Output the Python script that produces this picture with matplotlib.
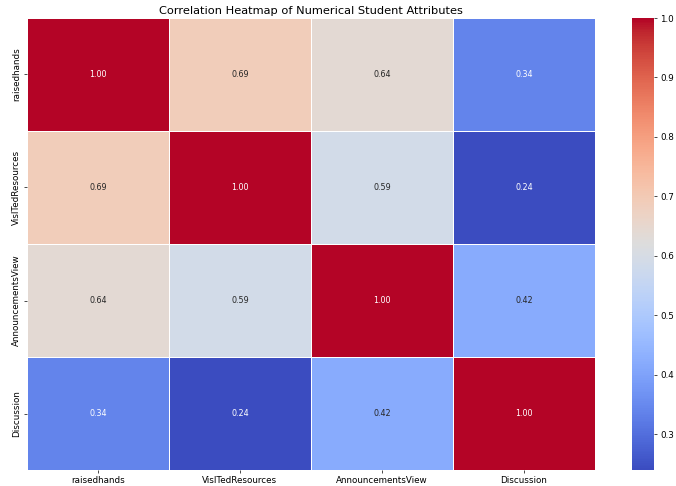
import numpy as np
import pandas as pd
import matplotlib
matplotlib.use("Agg")
import matplotlib.pyplot as plt
import seaborn as sns

labels = ["raisedhands", "VisITedResources", "AnnouncementsView", "Discussion"]
row_raised = [1.00, 0.69, 0.64, 0.34]
row_visited = [0.69, 1.00, 0.59, 0.24]
row_announce = [0.64, 0.59, 1.00, 0.42]
row_discuss = [0.34, 0.24, 0.42, 1.00]

corr = pd.DataFrame([row_raised, row_visited, row_announce, row_discuss],
                    index=labels, columns=labels)

fig = plt.figure(figsize=(6.76, 4.86), dpi=100)
ax = fig.add_axes([27 / 676, 1 - 470 / 486, 568 / 676, 452 / 486])
cax = fig.add_axes([632 / 676, 1 - 470 / 486, 22 / 676, 452 / 486])

sns.heatmap(corr, annot=True, fmt=".2f", cmap="coolwarm", linewidths=0.5,
            linecolor="white", ax=ax, cbar_ax=cax, annot_kws={"size": 5.8})

ax.set_title("Correlation Heatmap of Numerical Student Attributes", fontsize=8.2, pad=3)
ax.tick_params(axis="both", labelsize=6.3, length=2.5, width=0.5, pad=2)
plt.setp(ax.get_yticklabels(), rotation=90, va="center")
cax.tick_params(labelsize=6.3, length=2.5, width=0.5, pad=2)
cax.yaxis.set_ticks([0.3, 0.4, 0.5, 0.6, 0.7, 0.8, 0.9, 1.0])

fig.savefig("out.png", dpi=100)
